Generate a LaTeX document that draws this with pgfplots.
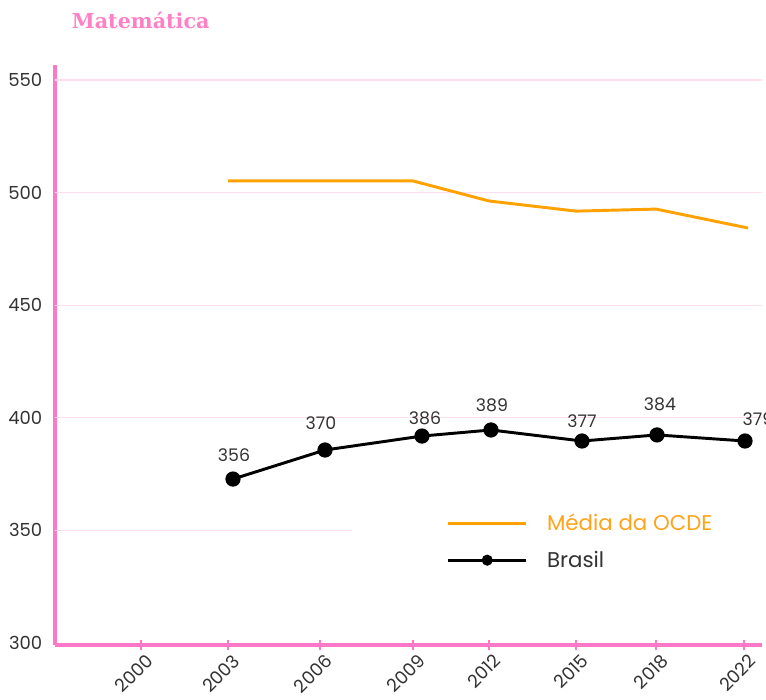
\documentclass[border=0pt]{standalone}
\usepackage{fontspec}
\setmainfont{Poppins}
\newfontfamily\titlefont{DejaVu Serif}
\usepackage{pgfplots}
\pgfplotsset{compat=1.18}
\usetikzlibrary{calc}
\definecolor{axpink}{HTML}{FF78C8}
\definecolor{titlepink}{HTML}{FF80C4}
\definecolor{gridpink}{HTML}{FFDDEF}
\definecolor{ocde}{HTML}{FFA200}
\definecolor{ocdetxt}{HTML}{FFA31A}
\definecolor{ticktxt}{HTML}{333333}

\begin{document}
\begin{tikzpicture}
\begin{axis}[
  name=ax, scale only axis,
  width=530.25pt, height=435pt,
  xmin=0.55, xmax=7.62, ymin=299.1, ymax=556.7,
  axis x line*=bottom, axis y line*=left,
  axis line style={draw=axpink, line width=3pt, -},
  xtick={1.41,2.28,3.20,4.13,4.89,5.76,6.56,7.44},
  xticklabels={2000,2003,2006,2009,2012,2015,2018,2022},
  ytick={300,350,...,550},
  major tick length=8pt, tick align=center,
  xtick style={draw=axpink, line width=2.2pt},
  ytick style={draw=none},
  ticklabel style={font=\fontsize{13.5}{15}\selectfont, text=ticktxt},
  /pgf/number format/assume math mode=true,
  xticklabel style={rotate=45, anchor=north east, xshift=4pt},
  yticklabel style={xshift=-2pt},
  clip=false,
  legend style={draw=none, fill=none, at={(rel axis cs:0.548,0.236)}, anchor=north west,
    font=\fontsize{16}{19}\selectfont, row sep=10pt, text=ticktxt,
    nodes={inner xsep=8pt}},
  legend cell align=left,
  legend image code/.code={\draw[mark repeat=2,mark phase=2,#1,mark size=3pt]
    plot coordinates {(0cm,0cm)(1.03cm,0cm)(2.06cm,0cm)};},
]
% grid
\addplot[gridpink, line width=1pt, forget plot] coordinates {(0.55,550)(7.62,550)};
\addplot[gridpink, line width=1pt, forget plot] coordinates {(0.55,500)(7.62,500)};
\addplot[gridpink, line width=1pt, forget plot] coordinates {(0.55,450)(7.62,450)};
\addplot[gridpink, line width=1pt, forget plot] coordinates {(0.55,400)(7.62,400)};
\addplot[gridpink, line width=1pt, forget plot] coordinates {(0.55,350)(3.52,350)};

\addplot[ocde, line width=2.2pt] coordinates
  {(2.28,505.2)(3.20,505.2)(4.13,505.2)(4.89,496.3)(5.76,491.8)(6.56,492.7)(7.48,484.3)};
\addlegendentry{\hspace{6.5pt}\textcolor{ocdetxt}{Média da OCDE}}

\addplot[black, line width=2.2pt, mark=*, mark size=4.6pt] coordinates
  {(2.33,372.8)(3.25,385.7)(4.22,391.9)(4.91,394.6)(5.82,389.7)(6.57,392.4)(7.45,389.7)};
\addlegendentry{\hspace{6.5pt}Brasil}

% value labels
\addplot[draw=none, forget plot, nodes near coords, point meta=explicit symbolic,
  nodes near coords style={anchor=center, font=\fontsize{13}{15}\selectfont, text=ticktxt}]
  table[meta=lbl] {
x    y     lbl
2.34 383.5 356
3.21 397.7 370
4.25 399.9 386
4.92 405.7 389
5.82 398.6 377
6.60 406.1 384
7.58 399.4 379
};
\end{axis}
\node[anchor=west, text=titlepink, font=\titlefont\bfseries\fontsize{15.5}{18}\selectfont, inner xsep=0pt]
  at ($(ax.north west)+(12.5pt,33.75pt)$) {Matemática};
\pgfresetboundingbox
\path ($(ax.south west)+(-41.25pt,-40.5pt)$) rectangle ($(ax.north east)+(3pt,48.75pt)$);
\end{tikzpicture}
\end{document}
